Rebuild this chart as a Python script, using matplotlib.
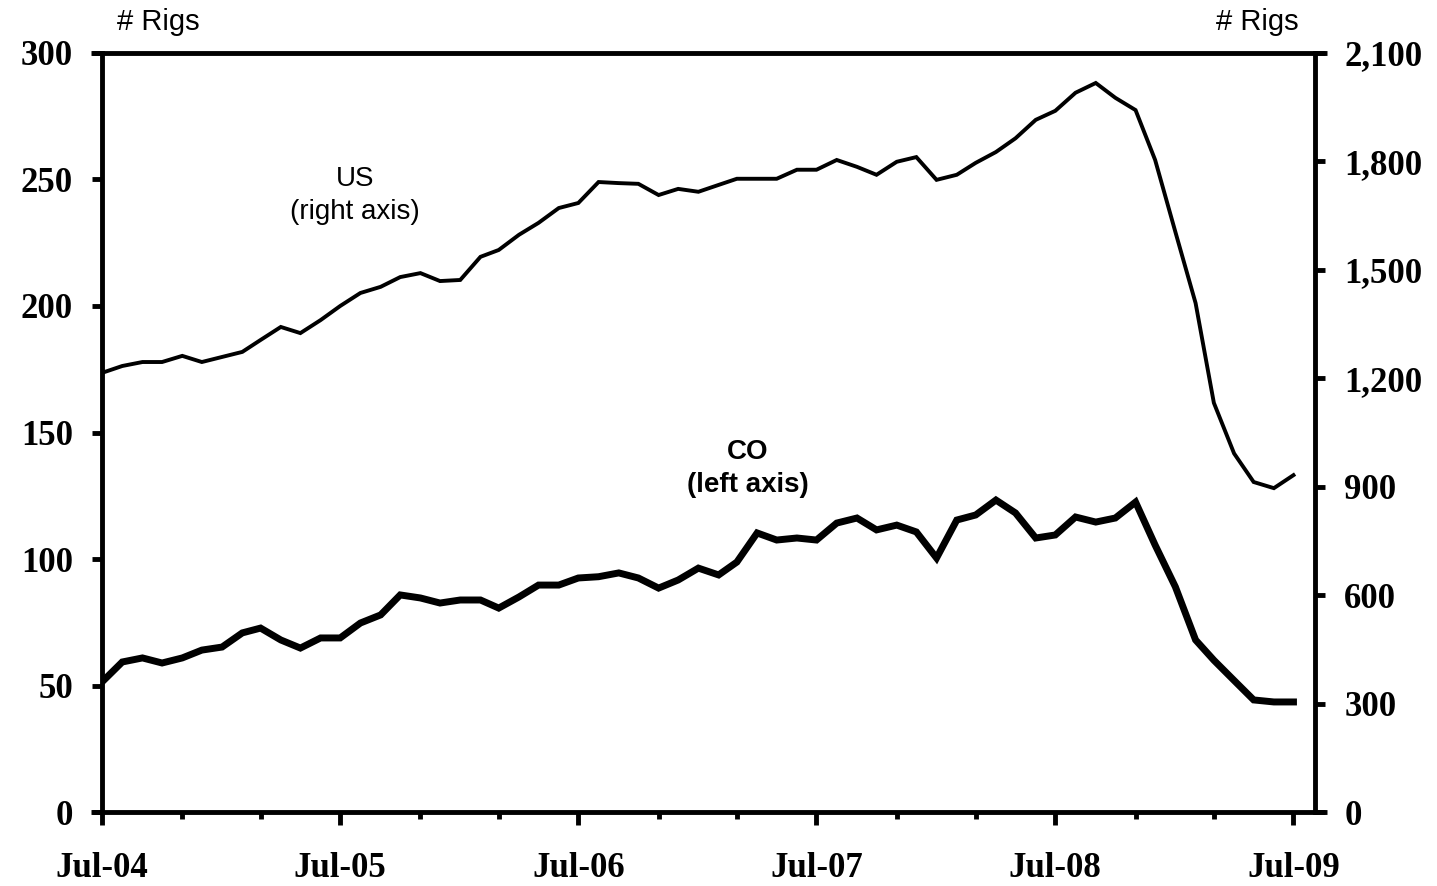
import pandas as pd
import matplotlib
matplotlib.use("Agg")
import matplotlib.pyplot as plt
import matplotlib.dates as mdates
import matplotlib.ticker as mticker

# monthly rig counts, Jul-2004 .. Jul-2009
months = pd.date_range("2004-07-01", "2009-07-01", freq="MS")

us_rigs = [1215, 1234, 1245, 1245, 1262, 1245, 1259, 1273, 1306, 1342,
           1325, 1361, 1400, 1436, 1453, 1480, 1491, 1469, 1472, 1536,
           1555, 1597, 1630, 1671, 1685, 1743, 1740, 1738, 1707, 1724,
           1716, 1735, 1752, 1752, 1752, 1777, 1777, 1804, 1785, 1763,
           1799, 1812, 1749, 1763, 1796, 1826, 1864, 1915, 1940, 1990,
           2017, 1976, 1942, 1804, 1605, 1408, 1132, 992, 913, 896, 932]

co_rigs = [51.4, 59.3, 60.9, 58.9, 60.9, 64.0, 65.2, 70.8, 72.7, 68.0,
           64.8, 68.8, 68.8, 74.7, 77.9, 85.8, 84.6, 82.6, 83.8, 83.8,
           80.6, 85.0, 89.7, 89.7, 92.5, 93.0, 94.5, 92.5, 88.5, 91.7,
           96.4, 93.7, 98.8, 110.3, 107.5, 108.3, 107.5, 114.2, 116.2, 111.5,
           113.4, 110.7, 100.4, 115.4, 117.4, 123.3, 118.2, 108.3, 109.5, 116.6,
           114.6, 116.2, 122.5, 105.5, 89.0, 68.0, 60.0, 52.0, 44.3, 43.5, 43.5]

left_ticks = [0, 50, 100, 150, 200, 250, 300]
right_ticks = [0, 300, 600, 900, 1200, 1500, 1800, 2100]

sans = "Liberation Sans"

fig = plt.figure(figsize=(14.37, 8.86), dpi=100)
ax = fig.add_axes([0.071, 0.0835, 0.8441, 0.8567])
ax2 = ax.twinx()

ax.plot(months, co_rigs, color="black", lw=5.0, solid_joinstyle="miter", zorder=3)
ax2.plot(months, us_rigs, color="black", lw=2.8, solid_joinstyle="miter", zorder=3)

ax.set_ylim(0, 300)
ax2.set_ylim(0, 2100)
ax.set_xlim(pd.Timestamp("2004-07-01"), pd.Timestamp("2009-08-03"))

ax.set_yticks(left_ticks)
ax2.set_yticks(right_ticks)
ax2.yaxis.set_major_formatter(mticker.FuncFormatter(lambda v, p: f"{int(v):,}"))

# ticks every 4 months, labels only on July
ax.xaxis.set_major_locator(mdates.MonthLocator(bymonth=[7]))
ax.xaxis.set_major_formatter(mdates.DateFormatter("Jul-%y"))
ax.xaxis.set_minor_locator(mdates.MonthLocator(bymonth=[3, 11]))

for a in (ax, ax2):
    for s in a.spines.values():
        s.set_visible(False)
ax.spines["left"].set_visible(True)
ax.spines["left"].set_linewidth(3.5)
ax2.spines["right"].set_visible(True)
ax2.spines["right"].set_linewidth(3.5)

# top and bottom frame lines run a little past the side axes
for yy in (0, 1):
    ax.plot([-0.009, 1.0099], [yy, yy], transform=ax.transAxes, color="black",
            lw=3.5, clip_on=False, solid_capstyle="butt", zorder=5)

ax.tick_params(axis="y", direction="out", length=7, width=3.5, pad=14)
ax2.tick_params(axis="y", direction="out", length=7, width=3.5, pad=14)
ax.tick_params(axis="x", which="major", direction="out", length=9, width=3.5, pad=20)
ax.tick_params(axis="x", which="minor", direction="out", length=5, width=3.5)

for lab in ax.get_yticklabels() + ax2.get_yticklabels() + ax.get_xticklabels():
    lab.set_fontfamily("Liberation Serif")
    lab.set_fontweight("bold")
    lab.set_fontsize(25)

ax.text(0.2086, 0.812, "US\n(right axis)", transform=ax.transAxes, ha="center",
        va="center", fontsize=20, family=sans, linespacing=1.35)
ax.text(0.5326, 0.452, "CO\n(left axis)", transform=ax.transAxes, ha="center",
        va="center", fontsize=20, family=sans, fontweight="bold", linespacing=1.35)

fig.text(158 / 1437, 1 - 22 / 886, "# Rigs", ha="center", va="center",
         fontsize=21, family=sans)
fig.text(1257 / 1437, 1 - 22 / 886, "# Rigs", ha="center", va="center",
         fontsize=21, family=sans)

fig.savefig("out.png", dpi=100)
